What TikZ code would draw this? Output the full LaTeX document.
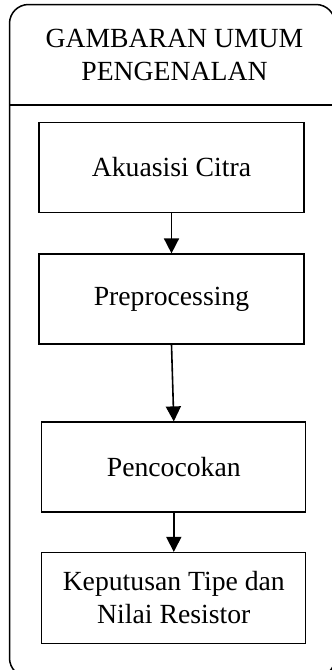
\documentclass[tikz,border=0pt]{standalone}
\usepackage{fontspec}
\setmainfont{Liberation Serif}
\usetikzlibrary{arrows.meta}

\tikzset{
  frame/.style={draw, line width=1.5pt, rounded corners=19pt},
  stepbox/.style={draw, line width=1.2pt, minimum width=265pt, minimum height=90pt,
    inner sep=0pt, align=center, font=\fontsize{27.7}{33}\selectfont},
  flow/.style={line width=1.6pt, -{Triangle[width=15pt,length=15pt]}},
  title/.style={inner sep=0pt, align=center, font=\fontsize{27.7}{33}\selectfont}
}

\begin{document}
\begin{tikzpicture}[x=1pt, y=-1pt]
  \useasboundingbox (0,0) rectangle (332,670);
  \clip (0,0) rectangle (332,670);

  % outer container with its header band
  \draw[frame] (9.5,4.5) rectangle (335,677);
  \draw[line width=1.5pt] (9.5,105) -- (340,105);

  % header (base anchor sits on the last line's baseline)
  \node[title, anchor=base] (head) at (174.5,80) {GAMBARAN UMUM\\PENGENALAN};

  % process steps
  \node[stepbox] (s1) at (171.5,167.2) {Akuasisi Citra};
  \node[stepbox] (s2) at (171.5,299) {Preprocessing};
  \node[stepbox, minimum width=264pt] (s3) at (173.8,467) {Pencocokan};
  \node[stepbox, minimum width=264pt, minimum height=91pt] (s4) at (173.8,598) {Keputusan Tipe dan\\Nilai Resistor};

  % connectors
  \draw[flow] (s1.south) -- (s2.north);
  \draw[flow] (s2.south) -- (s3.north);
  \draw[flow] (s3.south) -- (s4.north);
\end{tikzpicture}
\end{document}
